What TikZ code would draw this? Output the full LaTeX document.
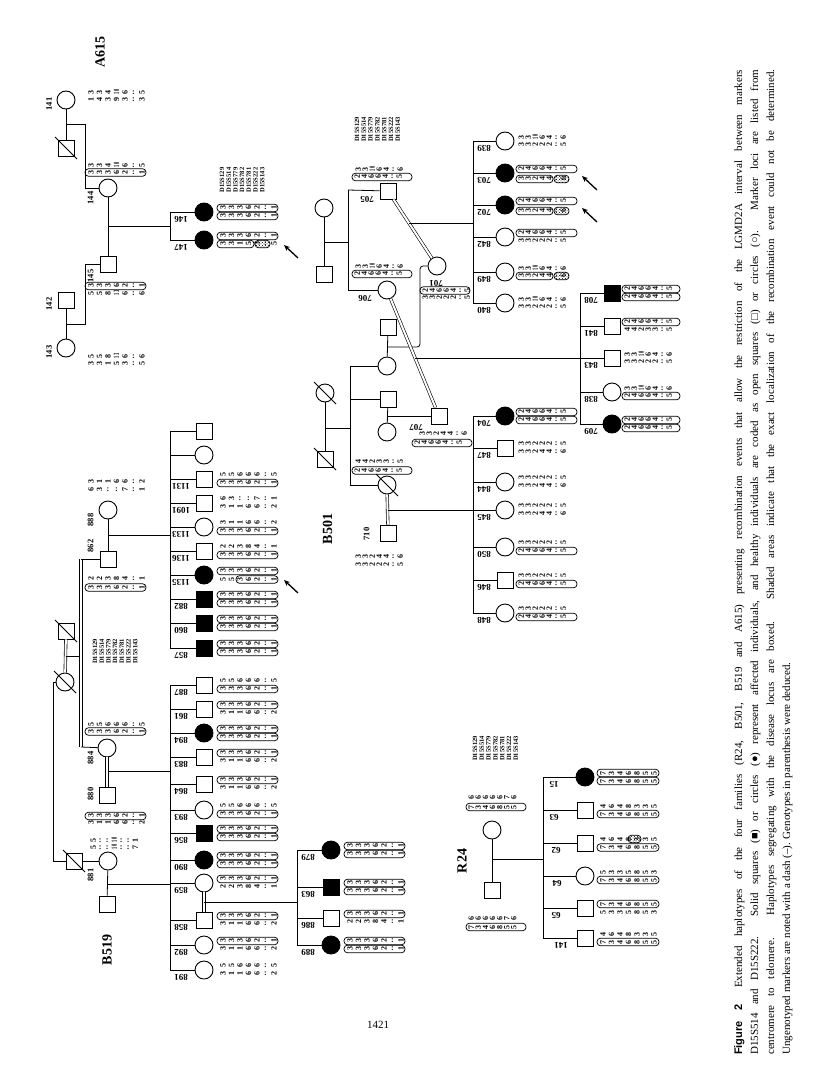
\documentclass[tikz,border=0pt]{standalone}
\usepackage{fontspec}
\usepackage{graphicx}
\setmainfont{Liberation Serif}
\newfontfamily\capsans{Liberation Sans}
\usetikzlibrary{patterns,arrows.meta}
\newlength\cellw
\setlength\cellw{8.5pt}
\def\colonmark{:}
\newcommand\hdig[1]{\makebox[\cellw]{\edef\tmpa{#1}\ifx\tmpa\colonmark :\else\sbox0{#1}\ifdim\wd0>5pt \rotatebox{90}{\resizebox{4.3pt}{\height}{#1}}\else\rotatebox{90}{#1}\fi\fi}}
\newcommand\hr[1]{\edef\hlist{#1}\foreach \hh in \hlist {\hdig{\hh}}}
\def\bw{61}
\newcommand\hu[3]{\node[hapt,anchor=west] at ({#1+1.5},#2) {\hr{#3}};}
\newcommand\hb[3]{\draw[hbx] (#1,{#2-3.8}) rectangle ({#1+\bw},{#2+3.8});\node[hapt,anchor=west] at ({#1+1.5},#2) {\hr{#3}};}
\newcommand\hpt[3]{\draw[hbx] (#1,{#2-3.8}) rectangle ({#1+37},{#2+3.8});\draw[hbx,pattern=crosshatch dots] ({#1+38},{#2-3.8}) rectangle ({#1+53},{#2+3.8});\node[hapt,anchor=west] at ({#1+1.5},#2) {\hr{#3}};}
\newcommand\kid[6]{\node[#2] (#1) at (#4,#5) {};\coordinate (#1s) at (#3,#5);\draw[ln] (#1s) -- (#1);\node[idl] at ({#3+11},{#5+7}) {#6};}
\newcommand\dslash[1]{\draw[line width=0.9pt] (#1) ++(-11,-11) -- ++(22,22);}
\newcommand\markers[3]{\foreach \mm [count=\ii from 0] in {D15S129,D15S514,D15S779,D15S782,D15S781,D15S222,D15S143} {\node[mk] at ({#1+\ii*#3},#2) {\mm};}}
% haplotype digit lists
\def\Da{3,3,3,6,2,:,1}\def\Ra{5,5,3,6,2,:,1}
\def\Na{5,5,6,6,6,:,5}\def\Nb{3,1,1,6,6,:,2}\def\Nc{2,2,3,8,4,:,1}\def\Nf{6,3,:,:,7,:,1}
\def\Nd{5,:,:,10,:,:,1}\def\Ne{5,:,:,10,:,:,7}
\def\Ea{2,4,6,6,4,:,5}\def\Eb{3,3,2,4,4,:,6}\def\Ec{3,3,10,6,4,:,6}\def\Ed{3,3,2,2,2,:,5}\def\Ee{4,4,2,3,3,:,5}
\def\Fa{7,3,4,6,8,5,5}\def\Fb{4,6,4,8,3,3,5}\def\Fc{6,6,6,6,6,7,6}\def\Fd{5,3,3,5,8,5,3}
\def\Ga{3,3,4,10,6,:,5}\def\Gb{1,4,3,9,3,:,3}\def\Gc{5,5,8,13,6,:,6}\def\Gd{3,3,1,5,3,:,5}
\tikzset{
  ml/.style={draw, rectangle, line width=0.9pt, minimum size=16pt, inner sep=0pt, fill=white},
  fm/.style={draw, circle, line width=0.9pt, minimum size=18pt, inner sep=0pt, fill=white},
  aff/.style={fill=black},
  ln/.style={line width=0.8pt},
  dbl/.style={double, double distance=2pt, line width=0.6pt},
  idl/.style={rotate=180, font=\fontsize{9}{9}\selectfont\bfseries, inner sep=0pt},
  gl/.style={rotate=90, font=\fontsize{8.5}{8.5}\selectfont\bfseries, inner sep=0pt},
  fam/.style={rotate=90, font=\fontsize{14}{14}\selectfont\bfseries, inner sep=0pt},
  mk/.style={rotate=90, font=\fontsize{6.5}{6.5}\selectfont\bfseries, inner sep=0pt},
  hapt/.style={inner sep=0pt, font=\fontsize{8}{8}\selectfont\bfseries},
  hbx/.style={line width=0.75pt, rounded corners=3.5pt},
  arr/.style={-{Stealth[length=6pt,width=5pt]}, line width=1.3pt},
  capt/.style={rotate=90, inner sep=0pt, font=\fontsize{11}{11}\selectfont},
}
\begin{document}
\begin{tikzpicture}[x=1pt,y=-1pt]
\useasboundingbox (0,0) rectangle (816,1081);
\fill[white] (0,0) rectangle (816,1081);
% ================= A615 =================
\setlength\cellw{8.5pt}\def\bw{61}
\node[fam] at (100,52) {A615};
\node[fm] (a141) at (66,100) {}; \node[ml] (a0) at (66,148) {}; \dslash{a0}
\draw[ln] (a141) -- (a0);
\node[gl] at (49,104) {141};
\hu{85}{92}{\Ga} \hu{85}{100}{\Gb}
\node[fm] (a144) at (108,188) {};
\draw[ln] (66,124) -- (85,124) -- (85,188) -- (a144);
\node[ml] (a142) at (66,300) {}; \node[fm] (a143) at (66,348) {};
\draw[ln] (a142) -- (a143);
\node[gl] at (49,304) {142}; \node[gl] at (49,352) {143};
\hu{85}{356}{\Gc} \hu{85}{364}{\Gd}
\node[ml] (a145) at (108,264) {};
\draw[ln] (66,324) -- (85,324) -- (85,264) -- (a145);
\draw[ln] (a144) -- (a145);
\node[gl] at (90.5,198) {144}; \node[gl] at (90.5,276) {145};
\hu{85}{165}{\Ga} \hb{85}{172.5}{\Da}
\hb{85}{286}{\Da} \hu{85}{293}{\Gc}
\markers{222}{180}{6.7}
\coordinate (a45) at (108,226); \coordinate (a45e) at (170,226);
\draw[ln] (a45) -- (a45e);
\draw[ln] (170,212) -- (170,240);
\kid{a146}{fm,aff}{170}{204}{212}{146} \hb{217}{208}{\Da} \hb{217}{216}{\Da}
\kid{a147}{fm,aff}{170}{204}{240}{147} \hb{217}{236}{\Da} \hpt{217}{244}{\Gd}
\coordinate (a0t) at (298,258); \coordinate (a0h) at (284,245); \draw[arr] (a0t) -- (a0h);
% ================= B519 =================
\setlength\cellw{8.5pt}\def\bw{61}
\node[ml] (b1) at (66,631) {}; \dslash{b1}
\node[fm] (b2) at (65,682) {}; \dslash{b2}
\draw[dbl] (b1) -- (b2);
\coordinate (b12) at (65.5,656); \coordinate (bs0) at (81,656);
\draw[ln] (b12) -- (bs0);
\coordinate (bt) at (81,559); \coordinate (bb) at (81,747);
\draw[dbl] (bt) -- (bb);
\node[ml] (b862) at (108,559) {};
\node[fm] (b888) at (108,510) {};
\draw[ln] (bt) -- (b862);
\draw[ln] (b888) -- (b862);
\coordinate (b862d) at (108,535); \coordinate (b862e) at (170,535);
\draw[ln] (b862d) -- (b862e);
\node[gl] at (90.5,546) {862}; \node[gl] at (90.5,520) {888};
\hu{85}{579}{\Nc} \hb{85}{587.5}{\Da}
\hu{85}{482}{\Nb} \hu{85}{490}{\Nf}
\markers{95}{651.5}{6.7}
\node[fm] (b884) at (107,748) {}; \node[ml] (b880) at (107,795) {};
\draw[ln] (bb) -- (b884);
\draw[dbl] (b884) -- (b880);
\coordinate (b884d) at (108,771); \coordinate (b884e) at (170,771);
\draw[ln] (b884d) -- (b884e);
\node[gl] at (90.5,758) {884}; \node[gl] at (90.5,794) {880};
\hu{85}{725}{\Na} \hb{85}{731.5}{\Da}
\hb{85}{816}{\Da} \hu{85}{823}{\Nb}
\node[ml] (b881) at (74,861) {}; \dslash{b881}
\node[gl] at (90.5,875) {881};
\node[fm] (b881d) at (108,861) {}; \node[ml] (b881s) at (107,904) {};
\draw[ln] (b881) -- (b881d); \draw[ln] (b881d) -- (b881s);
\coordinate (b881m) at (107.5,884); \coordinate (b881e) at (170,884);
\draw[ln] (b881m) -- (b881e);
\draw[ln] (b2.west) -- (53,682) -- (53,861) -- (b881.west);
\setlength\cellw{7pt}
\hu{88}{840}{\Nd} \hu{88}{847}{\Ne}
\setlength\cellw{8.5pt}
\node[fam] at (107,950) {B519};
\draw[ln] (170,431) -- (170,648);
\draw[ln] (170,685) -- (170,970);
\kid{k1}{ml}{170}{204}{431}{}
\kid{k2}{fm}{170}{204}{455}{}
\kid{k1131}{ml}{170}{204}{479}{1131} \hu{217}{475}{\Na} \hb{217}{483}{\Da}
\kid{k1091}{ml}{170}{204}{503}{1091} \hu{217}{499}{\Nf} \hu{217}{507}{\Nb}
\kid{k1133}{fm}{170}{204}{527}{1133} \hu{217}{523}{\Nb} \hb{217}{531}{\Da}
\kid{k1136}{ml}{170}{204}{551}{1136} \hu{217}{547}{\Nc} \hb{217}{555}{\Da}
\kid{k1135}{fm,aff}{170}{204}{575}{1135} \hb{217}{571}{\Da}
\draw[hbx] (236,{579.5-3.8}) rectangle (278,{579.5+3.8}); \hu{217}{579.5}{\Ra}
\coordinate (a1t) at (298,593); \coordinate (a1h) at (284,580); \draw[arr] (a1t) -- (a1h);
\kid{k882}{ml,aff}{170}{204}{599}{882} \hb{217}{595}{\Da} \hb{217}{603}{\Da}
\kid{k860}{ml,aff}{170}{204}{623}{860} \hb{217}{619}{\Da} \hb{217}{627}{\Da}
\kid{k857}{ml,aff}{170}{204}{648}{857} \hb{217}{644}{\Da} \hb{217}{652}{\Da}
\kid{k887}{ml}{170}{204}{685}{887} \hu{217}{681}{\Na} \hb{217}{689}{\Da}
\kid{k861}{ml}{170}{204}{709}{861} \hb{217}{705}{\Da} \hu{217}{713}{\Nb}
\kid{k894}{fm,aff}{170}{204}{733}{894} \hb{217}{729}{\Da} \hb{217}{737}{\Da}
\kid{k883}{ml}{170}{204}{757}{883} \hb{217}{753}{\Da} \hu{217}{761}{\Nb}
\kid{k864}{ml}{170}{204}{784}{864} \hb{217}{780}{\Da} \hu{217}{788}{\Nb}
\kid{k893}{fm}{170}{204}{810}{893} \hu{217}{806}{\Na} \hb{217}{814}{\Da}
\kid{k856}{ml,aff}{170}{204}{833}{856} \hb{217}{829}{\Da} \hb{217}{837}{\Da}
\kid{k890}{fm,aff}{170}{204}{860}{890} \hb{217}{856}{\Da} \hb{217}{864}{\Da}
\kid{k859}{fm}{170}{204}{883}{859} \hb{217}{879}{\Da} \hu{217}{887}{\Nc}
\kid{k858}{ml}{170}{204}{920}{858} \hb{217}{916}{\Da} \hu{217}{924}{\Nb}
\kid{k892}{fm}{170}{204}{945}{892} \hb{217}{941}{\Da} \hu{217}{949}{\Nb}
\kid{k891}{fm}{170}{204}{970}{891} \hu{217}{966}{\Na} \hu{217}{974}{\Nb}
\draw[dbl] (k859) -- (k858);
\coordinate (g4d) at (204,902); \coordinate (g4e) at (297,902);
\draw[ln] (g4d) -- (g4e);
\draw[ln] (297,850) -- (297,945);
\kid{k879}{fm,aff}{297}{331}{850}{879} \hb{344}{846}{\Da} \hb{344}{854}{\Da}
\kid{k863}{ml,aff}{297}{331}{887}{863} \hb{344}{883}{\Da} \hb{344}{891}{\Da}
\kid{k886}{ml}{297}{331}{918}{886} \hb{344}{914}{\Da} \hu{344}{922}{\Nc}
\kid{k889}{fm,aff}{297}{331}{945}{889} \hb{344}{941}{\Da} \hb{344}{949}{\Da}
% ================= B501 =================
\setlength\cellw{7pt}\def\bw{60}
\markers{357}{129.5}{6.8}
\node[fm] (c1) at (324,208) {}; \node[ml] (c2) at (324,274) {};
\draw[ln] (c1) -- (c2);
\coordinate (c12) at (324,242); \coordinate (c12e) at (348,242);
\draw[ln] (c12) -- (c12e);
\draw[ln] (348,190) -- (348,290);
\node[ml] (n705) at (388,191) {}; \node[fm] (n706) at (387,290) {};
\draw[ln] (348,190) -- (n705); \draw[ln] (348,290) -- (n706);
\node[idl] at (367,199) {705}; \node[idl] at (365,298) {706};
\hu{353}{169}{\Ec} \hb{352}{177}{\Ea}
\hu{353}{266}{\Ec} \hb{352}{274}{\Ea}
\node[fm] (n701) at (437,266) {};
\draw[dbl] (n705) -- (n701);
\coordinate (d1) at (409,223); \coordinate (d1e) at (473,223);
\draw[ln] (d1) -- (d1e);
\node[idl] at (436,283) {701};
\def\bw{50}\hb{420}{290.5}{\Ea} \hu{420}{298}{\Ed}\def\bw{60}
\node[ml] (p1) at (388,327) {}; \node[fm] (p2) at (387,366) {};
\draw[ln] (p1) -- (p2);
\draw[ln,rounded corners=3pt] (n701.west) -- (420,266) -- (420,347) -- (387,347);
\node[ml] (n707) at (439,416) {};
\draw[dbl] (n706) -- (n707);
\coordinate (d2) at (415,358); \coordinate (d2e) at (580,358);
\draw[ln] (d2) -- (d2e);
\node[fm] (e1) at (325,393) {}; \dslash{e1}
\node[ml] (e2) at (325,459) {}; \dslash{e2}
\draw[ln] (e1) -- (e2);
\coordinate (e12) at (325,428); \coordinate (e12e) at (350,428);
\draw[ln] (e12) -- (e12e);
\draw[ln] (350,366) -- (350,485);
\node[ml] (q1) at (388,399) {}; \node[fm] (q2) at (387,432) {};
\node[fm] (r1) at (387,485) {}; \dslash{r1}
\draw[ln] (350,366) -- (p2); \draw[ln] (350,399) -- (q1); \draw[ln] (350,485) -- (r1);
\draw[ln] (q1) -- (q2);
\draw[ln] (387,416) -- (n707);
\node[idl] at (416,427) {707};
\hu{417}{434}{\Eb} \hb{412}{443}{\Ea}
\hu{353}{462}{\Ee} \hb{352}{470.5}{\Ea}
\node[ml] (n710) at (388,533) {};
\draw[dbl] (r1) -- (n710);
\coordinate (r1d) at (388,510); \coordinate (r1e) at (473,510);
\draw[ln] (r1d) -- (r1e);
\node[gl] at (366.5,534) {710};
\hu{353}{557}{\Eb} \hu{353}{565}{\Ed}
\node[fam] at (327.5,529) {B501};
% children of 705 x 701
\def\bw{61}
\draw[ln] (473,141) -- (473,303);
\kid{n839}{fm}{473}{505}{141}{839} \hu{516}{137}{\Ec} \hu{516}{145}{\Ed}
\kid{n703}{fm,aff}{473}{505}{173}{703} \hb{516}{169}{\Ea} \hpt{516}{179}{\Eb}
\kid{n702}{fm,aff}{473}{505}{205}{702} \hb{516}{201}{\Ea} \hpt{516}{211}{\Eb}
\kid{n842}{fm}{473}{505}{237}{842} \hb{516}{233}{\Ea} \hu{516}{241}{\Ed}
\kid{n849}{fm}{473}{505}{272}{849} \hu{516}{268}{\Ec} \hpt{516}{276}{\Eb}
\kid{n840}{fm}{473}{505}{303}{840} \hu{516}{299}{\Ec} \hu{516}{307}{\Ed}
\coordinate (a2t) at (597,190); \coordinate (a2h) at (582,176); \draw[arr] (a2t) -- (a2h);
\coordinate (a3t) at (597,222); \coordinate (a3h) at (582,208); \draw[arr] (a3t) -- (a3h);
% children of 706 x 707
\def\bw{58}
\draw[ln] (580,293) -- (580,424);
\kid{n708}{ml,aff}{580}{612}{293}{708} \hb{622}{289}{\Ea} \hb{622}{297}{\Ea}
\kid{n841}{ml}{580}{612}{326}{841} \hb{622}{322}{\Ea} \hu{622}{330}{\Ee}
\kid{n843}{ml}{580}{612}{358}{843} \hu{622}{354}{\Ec} \hu{622}{362}{\Ed}
\kid{n838}{fm}{580}{612}{392}{838} \hu{622}{388}{\Ec} \hb{622}{396}{\Ea}
\kid{n709}{fm,aff}{580}{612}{424}{709} \hb{622}{420}{\Ea} \hb{622}{428}{\Ea}
% children of circle x 710
\def\bw{61}
\draw[ln] (473,416) -- (473,613);
\kid{n704}{fm,aff}{473}{505}{416}{704} \hb{516}{412}{\Ea} \hb{516}{420}{\Ea}
\kid{n847}{ml}{473}{505}{448}{847} \hu{516}{444}{\Ed} \hu{516}{452}{\Eb}
\kid{n844}{fm}{473}{505}{482}{844} \hu{516}{478}{\Ed} \hu{516}{486}{\Eb}
\kid{n845}{fm}{473}{505}{510}{845} \hu{516}{506}{\Ed} \hu{516}{514}{\Eb}
\kid{n850}{fm}{473}{505}{547}{850} \hu{516}{543}{\Ed} \hb{516}{551}{\Ea}
\kid{n846}{ml}{473}{505}{580}{846} \hu{516}{576}{\Ed} \hb{516}{584}{\Ea}
\kid{n848}{fm}{473}{505}{613}{848} \hu{516}{609}{\Ed} \hb{516}{617}{\Ea}
% ================= R24 =================
\setlength\cellw{7.1pt}\def\bw{60}
\markers{475}{748.5}{6.8}
\node[fm] (f1) at (492,830) {}; \node[ml] (f2) at (492,890) {};
\draw[ln] (f1) -- (f2);
\coordinate (f12) at (492,859); \coordinate (f12e) at (543,859);
\draw[ln] (f12) -- (f12e);
\hu{466}{797}{\Fc} \hb{466}{807}{\Fa}
\hu{466}{918}{\Fc} \hb{466}{927}{\Fa}
\node[fam] at (462,861) {R24};
\setlength\cellw{8.5pt}\def\bw{62}
\draw[ln] (543,777) -- (543,938);
\newcommand\rkid[5]{\node[#2] (#1) at (585,#3) {};\coordinate (#1s) at (543,#3);\draw[ln] (#1s) -- (#1);\node[idl] at (#4,{#3+7}) {#5};}
\rkid{r15}{fm,aff}{777}{554}{15} \hb{597}{773}{\Fa} \hb{597}{781}{\Fa}
\rkid{r63}{ml}{810}{554}{63} \hu{597}{806}{\Fb} \hb{597}{814}{\Fa}
\rkid{r62}{ml}{843}{556}{62} \draw[hbx,pattern=crosshatch dots] (628,{839-3.8}) rectangle (641,{839+3.8}); \hu{597}{839}{\Fb} \hb{597}{847.5}{\Fa}
\rkid{r64}{fm}{876}{557}{64} \hu{597}{872}{\Fd} \hb{597}{880}{\Fa}
\rkid{r65}{ml}{908}{556}{65} \hb{597}{904}{\Fa} \hu{597}{912}{\Fd}
\rkid{r141}{ml}{938}{561}{141} \hu{597}{934}{\Fb} \hb{597}{942}{\Fa}
% ================= caption =================
\node[capt, anchor=base west] (cap1) at (742,1055) {\hbox to 985pt{{\capsans\bfseries Figure 2}\hskip 1.5em Extended haplotypes of the four families (R24, B501, B519 and A615) presenting recombination events that allow the restriction of the LGMD2A interval between markers}};
\node[capt, anchor=base west] (cap2) at (758,1055) {\hbox to 985pt{D15S514 and D15S222. Solid squares (■) or circles (●) represent affected individuals, and healthy individuals are coded as open squares (□) or circles (○). Marker loci are listed from}};
\node[capt, anchor=base west] (cap3) at (774,1055) {\hbox to 985pt{centromere to telomere. Haplotypes segregating with the disease locus are boxed. Shaded areas indicate that the exact localization of the recombination event could not be determined.}};
\node[capt, anchor=base west] (cap4) at (790,1055) {Ungenotyped markers are noted with a dash (--). Genotypes in parenthesis were deduced.};
\node[font=\fontsize{11}{11}\selectfont] (page) at (378,1025) {1421};
\end{tikzpicture}
\end{document}
